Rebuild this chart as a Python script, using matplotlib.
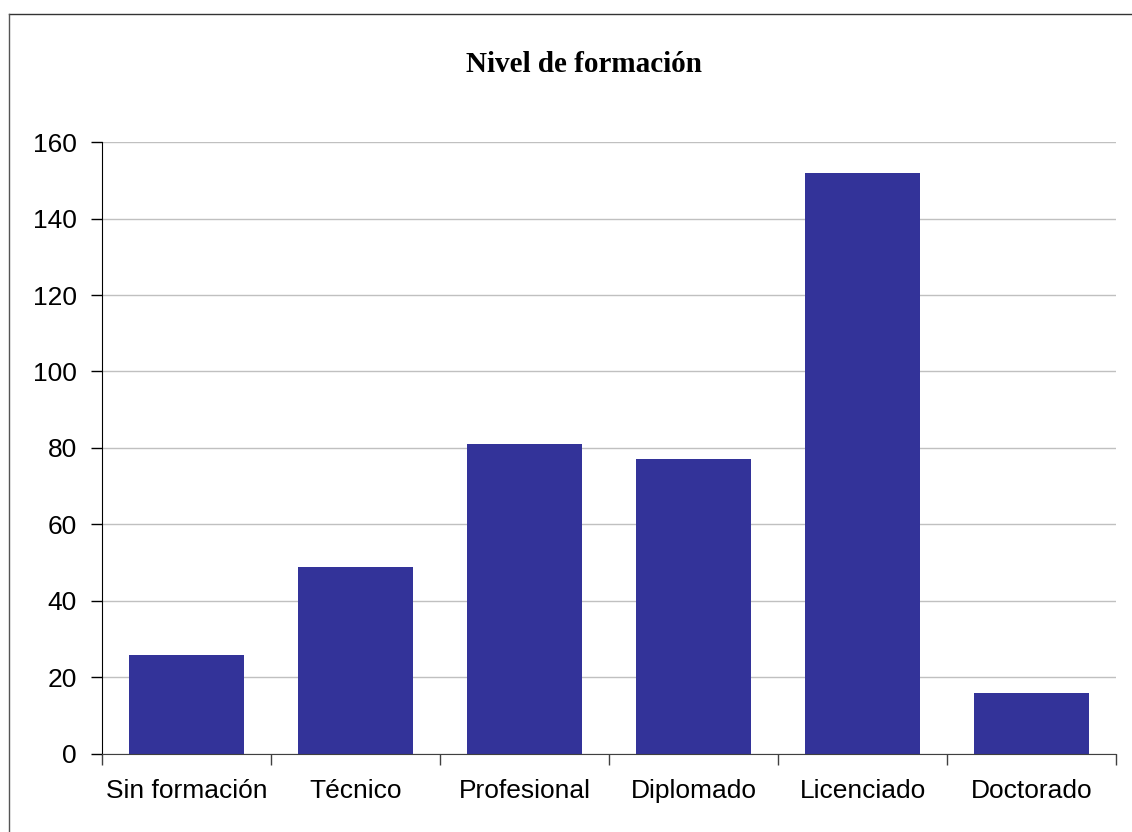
import matplotlib
matplotlib.use("Agg")
import matplotlib.pyplot as plt
from matplotlib.lines import Line2D
import numpy as np

categories = ["Sin formación", "Técnico", "Profesional", "Diplomado", "Licenciado", "Doctorado"]
values = [26, 49, 81, 77, 152, 16]
yticks = [0, 20, 40, 60, 80, 100, 120, 140, 160]

bar_color = "#333399"

fig = plt.figure(figsize=(11.32, 8.32), dpi=100)
ax = fig.add_axes([0.0901, 0.0938, 0.8958, 0.7355])

x = np.arange(len(categories))
ax.bar(x, values, width=0.68, color=bar_color, zorder=3)

ax.set_xlim(-0.5, len(categories) - 0.5)
ax.set_ylim(0, 160)
ax.set_yticks(yticks)
ax.set_yticklabels([str(v) for v in yticks], fontsize=19, family="Liberation Sans")
ax.yaxis.grid(True, color="#c0c0c0", linewidth=1, zorder=0)

# category separators as x ticks
ax.set_xticks(np.arange(len(categories) + 1) - 0.5)
ax.set_xticklabels([])
ax.set_xticks(x, minor=True)
ax.set_xticklabels(categories, minor=True, fontsize=19, family="Liberation Sans")
ax.tick_params(axis="x", which="minor", length=0, pad=18)
ax.tick_params(axis="x", which="major", length=8, width=1, color="#404040", direction="out")
ax.tick_params(axis="y", length=8, width=1, direction="out", pad=10)

for side in ["top", "right"]:
    ax.spines[side].set_visible(False)
ax.spines["left"].set_color("black")
ax.spines["bottom"].set_color("#404040")
ax.spines["bottom"].set_zorder(4)

fig.text(0.5155, 0.923, "Nivel de formación", ha="center", va="center",
         fontsize=21, fontweight="bold", family="Liberation Serif")

# outer frame (only top and left edges visible)
fig.add_artist(Line2D([8.5 / 1132, 1.0], [1 - 13.5 / 832, 1 - 13.5 / 832], color="#333333", linewidth=1))
fig.add_artist(Line2D([8.5 / 1132, 8.5 / 1132], [0.0, 1 - 13.5 / 832], color="#555555", linewidth=1))

fig.savefig("out.png", dpi=100)
